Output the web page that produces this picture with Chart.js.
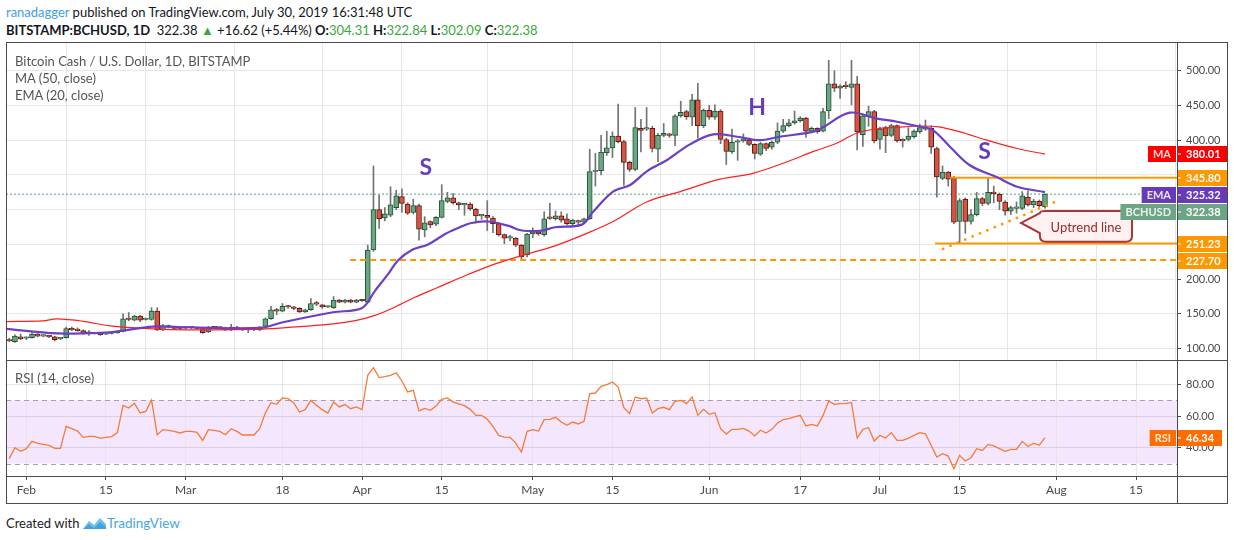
<!DOCTYPE html>
<html>
<head>
<meta charset="utf-8">
<title>BCHUSD</title>
<script src="https://cdn.jsdelivr.net/npm/chart.js@4.4.1/dist/chart.umd.min.js"></script>
<style>
  html, body { margin:0; padding:0; background:#fff; }
  body { width:1234px; height:540px; overflow:hidden; position:relative; font-family: Lato, "Open Sans", sans-serif; color:#131722; }
  .t { position:absolute; white-space:nowrap; }
  .g { color:#3ba83b; }
  #c1 { position:absolute; left:0; top:42px; }
  #c2 { position:absolute; left:0; top:360px; }
  .ln { position:absolute; background:#4b4b4b; }
  .leg { position:absolute; left:15px; font-size:13px; color:#555; line-height:16px; white-space:nowrap; }
</style>
</head>
<body>
<div class="t" style="left:6px;top:4px;font-size:13px;line-height:16px;"><span style="color:#3f9ee6">ranadagger</span> published on TradingView.com, July 30, 2019 16:31:48 UTC</div>
<div class="t" style="left:6px;top:22px;font-size:13px;line-height:16px;"><b>BITSTAMP:BCHUSD, 1D</b>&nbsp; 322.38 <span class="g">&#9650;</span> +16.62 (+5.44%) <b>O:</b><span class="g">304.31</span> <b>H:</b><span class="g">322.84</span> <b>L:</b><span class="g">302.09</span> <b>C:</b><span class="g">322.38</span></div>

<canvas id="c1" width="1234" height="318"></canvas>
<canvas id="c2" width="1234" height="143"></canvas>

<div class="ln" style="left:6px;top:42px;width:1222px;height:1px;"></div>
<div class="ln" style="left:6px;top:42px;width:1px;height:462px;"></div>
<div class="ln" style="left:1227px;top:42px;width:1px;height:462px;"></div>
<div class="ln" style="left:6px;top:503px;width:1222px;height:1px;"></div>
<div class="ln" style="left:6px;top:360px;width:1222px;height:1px;"></div>
<div class="ln" style="left:6px;top:476px;width:1222px;height:1px;"></div>
<div class="ln" style="left:1177px;top:42px;width:1px;height:462px;"></div>

<div class="leg" style="top:53px;">Bitcoin Cash / U.S. Dollar, 1D, BITSTAMP</div>
<div class="leg" style="top:70px;">MA (50, close)</div>
<div class="leg" style="top:87px;">EMA (20, close)</div>
<div class="leg" style="top:370px;">RSI (14, close)</div>

<div class="t" style="left:6px;top:514px;font-size:13px;line-height:18px;color:#222;">Created with</div>
<svg style="position:absolute;left:82px;top:515px;" width="25" height="16" viewBox="0 0 25 16">
  <path d="M1 14 L7 6 L12 10 L18 3 L24 9 L24 14 Z" fill="#6cc3ec"/>
  <path d="M1 14 L7 9 L12 13 L18 7 L24 12 L24 14 Z" fill="#3fa5dd"/>
</svg>
<div class="t" style="left:107px;top:514px;font-size:13.5px;line-height:18px;color:#45a8dd;">TradingView</div>

<script>
// ---------- DATA (day index 0 = 2019-01-29, daily candles through 2019-07-30) ----------
const startDate = '2019-01-29';
const openP = [113,110,117,115,116,121,118,118,117,114,
116,129,128,126,122,122,122,121,122,123,
125,143,141,147,142,142,154,127,133,131,
130,129.5,130,130,129,124,131,130,130,127,
131,129,128,127,127,132,143,156,154,161,
160,158,153,156,166,163,160,159,170,167,
170,167,170,167,242,300,288,292,303,319,
308,296,306,271,283,279,289,312,317,310,
307,308,301,291,292,288,280,264,259,259,
249,235,265,268,264,288,287,291,287,280,
284,282,287,355,356,382,389,406,398,368,
358,417,416,417,387,407,408,407,435,441,
433,458,421,443,433,442,401,383,397,399,
400,394,380,395,390,397,413,421,425,428,
432,413,417,413,442,481,475,478,476,481,
408,434,441,401,418,407,421,401,401,405,
412,418,417,388,345,354,345,283,315,283,
293,316,309,325,322,311,298,302,302,318,
307,312,304.31];
const highP = [115,120,121,117,123,122,120,119,118,116,
131,131,130,127,126,123,123,123,124,125,
150,152,148,148,144,159,159,135,134,132,
131,132,131,131,130,132,132,131,131,135,
132,130,129,129,132,144,161,158,165,162,
161,159,157,172,168,164,161,175,171,171,
171,171,171,249,363,321,303,333,328,330,
310,315,308,290,284,290,336,325,323,311,
309,310,302,293,313,290,281,265,263,260,
250,266,274,270,297,309,298,297,294,286,
285,288,387,381,407,413,412,452,400,370,
447,430,447,420,410,424,410,437,456,443,
466,482,445,450,451,444,403,416,401,409,
402,395,397,396,399,425,430,430,442,434,
433,419,418,446,515,500,480,484,515,492,
437,449,443,419,420,423,422,402,418,415,
423,429,421,390,363,355,348,316,317,300,
325,318,345,334,324,313,305,311,326,327,
315,314,322.84];
const lowP = [110,109,113,113,115,117,117,116,111,113,
115,126,125,121,119,121,119,120,121,122,
124,140,140,139,141,141,126,126,130,128,
128,128,129,128,122,123,129,129,126,126,
128,126,123,126,126,131,142,149,153,158,
156,152,152,155,162,158,159,158,166,166,
166,166,168,166,240,273,284,290,300,296,
293,294,256,261,274,277,288,310,308,300,
292,299,281,286,270,267,262,251,255,247,
229,232,260,263,262,286,285,282,278,277,
278,280,286,334,350,378,375,396,335,355,
356,383,414,383,369,405,404,392,433,430,
421,403,418,430,430,395,365,381,371,397,
392,373,378,385,387,395,411,419,423,426,
404,411,410,412,431,470,460,474,451,386,
391,420,396,387,382,405,397,390,399,403,
410,414,381,318,343,334,280,252,266,279,
291,306,307,310,300,292,293,295,300,305,
303,303,302.09];
const closeP = [111,118,114,115.5,121,118,118.5,117,113,115,
129,127,126,122,122.5,121.5,120,122,123,123.5,
143,142,147,141,143,154,127,133,131,129,
129,130.5,130,129,123,131,130,129.5,127,131,
129,127,127,127.5,131,143,156,154,161,160,
158,153,156,165,164,160,160.5,170,167,170,
167,170,169,242,300,287,294,307,320,309,
295,306,272,281,278,289,313,317,310,307,
307.5,301,291,292,289,280,264,259,259.5,249,
232,265,268,265,287,287.5,291,285,280,285,
282,287,355,356,383,389,406,398,368,358,
418,414,417,388,407,410,407,435,440,434,
458,421,443,433,442,401,384,397,399,402,
394,381,395,388,397,413,421,425,428,432,
413,417,412,441,481,475,478,477,481,412,
435,441,399,416,406,421,399,399,406,413,
418,416,390,347,354,344,282,313,283,293,
316,309,325,323,312,298,303,303,320,307,
312,305.76,322.38];

// MA(50) and EMA(20) at sample days
const maDays = [-0.57,5.9,8.4,13.0,17.7,25.3,31.2,44.1,51.1,56.9,60.8,64.3,67.8,71.3,75.3,80.1,85.4,90.1,95.9,101.5,106.1,112.1,117.9,124.9,130.7,136.7,141.2,145.4,148.9,152.5,156.0,160.0,163.0,167.1,171.8,177.1,182];
const maVals = [139,140,142.8,139.4,132.7,128.4,127,128,131.8,135.6,140.4,148,160,174,188,205,222,234,248,266,283,311.5,326,344,352.3,369,383.5,395.5,410,416.5,418.5,420.4,419.4,412,400,388,380.01];
const emaDays = [-0.57,8.4,17.7,25.3,31.2,44.1,48.1,56.9,62.0,64.3,66.6,68.3,70.9,73.6,76.6,78.9,81.0,84.1,87.6,90.1,93.6,95.9,100.6,102.6,106.1,109.1,112.1,115.6,119.6,123.7,127.9,131.9,135.4,141.2,143.0,147.7,152.5,156.0,160.0,162.3,165.3,168.8,173.6,177.1,182];
const emaVals = [128.4,122,123.6,131.8,130.8,129.8,138,152.4,158.6,183.6,207.6,227,242.6,250,265,273.7,280.5,283,277,270,270,274.7,278.5,297,326,335.5,355.6,371.5,394,408.4,405,400,405,412,418.5,439.6,431,426.6,419.4,414.6,390.6,364,346.5,333,325.32];

// RSI(14) per day
const rsiVals = [33.1,40,37.7,39.4,44,42.7,42.1,41.5,39.6,39.6,
53.5,52,50.5,46.5,47.2,47.2,45.9,46.5,47,49.5,
66.7,65,68,61.9,62.9,70.1,48.2,51.4,51,50.3,
49.3,50.3,50.3,49.7,44.6,51.4,51,50.3,48.2,52,
50.3,48,48,48,52,61.9,68.4,67.4,71.4,70.9,
68.2,62.5,64,69.9,66.7,64,61.9,68.8,65.7,67.2,
64.6,65.7,64,85.7,90.5,84.2,84.8,85.7,87.2,82.1,
75.2,76.2,63.2,64.8,63.6,66.3,70.5,71.4,68.8,67.6,
66.5,64.2,60.4,60.4,57.9,53.5,47.8,46.7,46.5,42.9,
37.3,50.3,51.4,50.5,57.7,57.9,59.2,56.2,54.1,56.2,
55,56.6,74.1,74.5,78.7,79.8,81.5,78.3,65.3,61.5,
72,70.9,71.4,61.9,64.6,65.5,64,69.3,69.9,67.8,
72,60.4,64.2,61.1,62.1,52,48.6,51.6,51.6,52.2,
50.5,47.4,51,49.3,51.6,55.6,57.7,58.3,59.4,60.4,
53.7,54.7,53.7,60.4,69.3,67.4,67.8,68,68.4,46.1,
51.6,52.6,44.2,47.8,46.1,49.5,44.6,44.6,46.1,47.8,
49.5,48.8,41.5,34.1,36.2,34.7,26.7,35.2,31.6,33.7,
39.4,38.3,42.1,41.1,39.4,37.7,39,39,44,40.8,
42.9,41.5,46.34];

// axis ticks
const tickDays = [3,17,31,48,62,76,92,106,123,139,153,167,184,198];
const tickLabels = ['Feb','15','Mar','18','Apr','15','May','15','Jun','17','Jul','15','Aug','15'];
const priceTicks = [100,150,200,250,300,350,400,450,500];
const rsiTicks = [40,60,80];
const rsiBand = [30,70];
const rsiLast = 46.34;

// drawn annotations (data units)
const levelVals = [345.80, 251.23, 227.70];
const levelFrom = [165.3, 162.7, 59.9];
const trendDays = [163.9, 184.6];
const trendVals = [243, 314];
const lastPrice = 322.38;
const markerNames = ['MA','','EMA','BCHUSD','',''];
const markerVals = [380.01, 345.80, 325.32, 322.38, 251.23, 227.70];
const patternTexts = ['S','H','S'];
const patternDays = [73.2, 131.4, 171.4];
const patternVals = [360, 447.6, 383];
const calloutText = 'Uptrend line';
const calloutTipDay = 177.8, calloutTipVal = 280.9;
const calloutDays = [181.1, 197.3];
const calloutVals = [298, 254];

// ---------- STYLE ----------
const X_MIN = -0.57, X_MAX = 205.2;
const UP='#6ba583', UP_B='#225437', DN='#d75442', DN_B='#5b1a13', WICK='#737375';
const ORANGE='#ff9800';
const markerColors = ['#ff0000', ORANGE, '#673ab7', '#6ba583', ORANGE, ORANGE];
const FONT='Lato';
const isUp = closeP.map((c,i)=> c >= openP[i]);

function setTicks(vals){ return s => { s.ticks = vals.map(v=>({value:v})); }; }
function fitY(w){ return s => { s.width = w; s.paddingTop = 0; s.paddingBottom = 0; }; }
function fitX(h){ return s => { s.height = h; s.paddingLeft = 0; s.paddingRight = 0; }; }

function drawTags(chart, vals, names, colors, width){
  const {ctx, chartArea:a, scales:{y}} = chart;
  const h = 16;
  const items = vals.map((v,i)=>({v, name:names[i], color:colors[i], y:y.getPixelForValue(v)}))
                    .sort((p,q)=>p.y-q.y);
  let prev = -1e9;
  items.forEach(it => { if (it.y - prev < h + 1) it.y = prev + h + 1; prev = it.y; });
  ctx.save();
  ctx.font = 'bold 11px ' + FONT;
  ctx.textBaseline = 'middle';
  items.forEach(it => {
    const yy = Math.round(it.y);
    ctx.fillStyle = it.color;
    ctx.fillRect(a.right + 1, yy - h/2, width, h);
    ctx.fillStyle = '#fff';
    ctx.fillRect(a.right, yy - 0.5, 4, 1);
    ctx.textAlign = 'left';
    ctx.fillText(it.v.toFixed(2), a.right + 9, yy + 0.5);
    if (it.name) {
      const w = ctx.measureText(it.name).width + 10;
      ctx.fillStyle = it.color;
      ctx.fillRect(a.right - 1 - w, yy - h/2, w, h);
      ctx.fillStyle = 'rgba(255,255,255,0.85)';
      ctx.textAlign = 'center';
      ctx.fillText(it.name, a.right - 1 - w/2, yy + 0.5);
    }
  });
  ctx.restore();
}

const priceDeco = {
  id:'priceDeco',
  afterDatasetsDraw(chart){
    const {ctx, chartArea:a, scales:{x,y}} = chart;
    ctx.save();
    ctx.beginPath(); ctx.rect(a.left, a.top, a.right-a.left, a.bottom-a.top); ctx.clip();
    // pattern letters
    ctx.font = 'bold 23px ' + FONT;
    ctx.fillStyle = '#6a3cbc';
    ctx.textAlign = 'center'; ctx.textBaseline = 'middle';
    patternTexts.forEach((t,i)=> ctx.fillText(t, x.getPixelForValue(patternDays[i]), y.getPixelForValue(patternVals[i])));
    // callout
    const L = x.getPixelForValue(calloutDays[0]), R = x.getPixelForValue(calloutDays[1]);
    const T = y.getPixelForValue(calloutVals[0]), B = y.getPixelForValue(calloutVals[1]);
    const tx = x.getPixelForValue(calloutTipDay), ty = y.getPixelForValue(calloutTipVal);
    const r = 6;
    ctx.beginPath();
    ctx.moveTo(L + r, T);
    ctx.lineTo(R - r, T); ctx.quadraticCurveTo(R, T, R, T + r);
    ctx.lineTo(R, B - r); ctx.quadraticCurveTo(R, B, R - r, B);
    ctx.lineTo(L + r, B); ctx.quadraticCurveTo(L, B, L, B - r);
    ctx.lineTo(L, T + 22);
    ctx.lineTo(tx, ty);
    ctx.lineTo(L, T + 2);
    ctx.quadraticCurveTo(L, T, L + r, T);
    ctx.closePath();
    ctx.fillStyle = 'rgba(255,240,240,0.92)';
    ctx.fill();
    ctx.lineWidth = 2; ctx.strokeStyle = '#a3373a';
    ctx.stroke();
    ctx.font = '13px ' + FONT;
    ctx.fillStyle = '#9c2a2a';
    ctx.fillText(calloutText, (L + R)/2, (T + B)/2 + 1);
    ctx.restore();
  },
  afterDraw(chart){
    drawTags(chart, markerVals, markerNames, markerColors, 49);
  }
};

const rsiDeco = {
  id:'rsiDeco',
  beforeDraw(chart){
    const {ctx, chartArea:a, scales:{y}} = chart;
    const y1 = y.getPixelForValue(rsiBand[1]), y0 = y.getPixelForValue(rsiBand[0]);
    ctx.save();
    ctx.fillStyle = '#f4e7fd';
    ctx.fillRect(a.left, y1, a.right - a.left, y0 - y1);
    ctx.restore();
  },
  beforeDatasetsDraw(chart){
    const {ctx, chartArea:a, scales:{y}} = chart;
    ctx.save();
    ctx.strokeStyle = '#a89fae'; ctx.lineWidth = 1; ctx.setLineDash([5,4]);
    rsiBand.forEach(v => {
      const yy = Math.round(y.getPixelForValue(v)) + 0.5;
      ctx.beginPath(); ctx.moveTo(a.left, yy); ctx.lineTo(a.right, yy); ctx.stroke();
    });
    ctx.restore();
  },
  afterDraw(chart){
    drawTags(chart, [rsiLast], ['RSI'], ['#ff6d00'], 44);
  }
};

const common = {
  responsive:false, animation:false, devicePixelRatio:1,
  layout:{padding:{left:6, right:7, top:0, bottom:0}},
  plugins:{legend:{display:false}, tooltip:{enabled:false}}
};

const lineDs = (data, color, width, dash, order, tension) => ({
  type:'line', data, borderColor:color, borderWidth:width, borderDash:dash || [],
  pointRadius:0, tension:tension || 0, order, fill:false
});

new Chart(document.getElementById('c1'), {
  type:'bar',
  data:{ datasets:[
    lineDs(emaDays.map((d,i)=>({x:d, y:emaVals[i]})), '#6c3fc4', 2.2, null, 1, 0.35),
    lineDs(maDays.map((d,i)=>({x:d, y:maVals[i]})), '#ff1f1f', 1.2, null, 2, 0.35),
    lineDs([{x:trendDays[0], y:trendVals[0]}, {x:trendDays[1], y:trendVals[1]}], ORANGE, 2.5, [2.5,5.5], 3),
    ...levelVals.map((v,i)=> lineDs([{x:levelFrom[i], y:v}, {x:X_MAX, y:v}], ORANGE, 2, i===2 ? [6,4] : null, 3)),
    lineDs([{x:X_MIN, y:lastPrice}, {x:X_MAX, y:lastPrice}], '#5f9c7a', 1, [2,2], 7),
    { type:'bar', data: openP.map((o,i)=>({x:i, y:[o, closeP[i]]})),
      backgroundColor: isUp.map(u=>u?UP:DN), borderColor: isUp.map(u=>u?UP_B:DN_B),
      borderWidth:1, borderSkipped:false, barThickness:5, minBarLength:1.5, grouped:false, order:4 },
    { type:'bar', data: highP.map((h,i)=>({x:i, y:[lowP[i], h]})),
      backgroundColor: WICK, borderWidth:0, barThickness:1, grouped:false, order:5 }
  ]},
  options:{ ...common,
    scales:{
      x:{ type:'linear', min:X_MIN, max:X_MAX, offset:false,
          afterBuildTicks: setTicks(tickDays),
          ticks:{display:false, autoSkip:false},
          grid:{color:'#e6e6e6', drawTicks:false}, border:{display:false},
          afterFit: fitX(0) },
      y:{ position:'right', min:83.7, max:541.3,
          afterBuildTicks: setTicks(priceTicks),
          ticks:{callback:v=>Number(v).toFixed(2), color:'#4a4a4a', font:{family:FONT, size:11}, padding:5, autoSkip:false},
          grid:{color:'#e6e6e6', tickLength:4, tickColor:'#4b4b4b'}, border:{display:false},
          afterFit: fitY(50) }
    }
  },
  plugins:[priceDeco]
});

new Chart(document.getElementById('c2'), {
  type:'line',
  data:{ datasets:[ lineDs(rsiVals.map((v,i)=>({x:i, y:v})), '#f57b36', 1.3, null, 1) ] },
  options:{ ...common,
    scales:{
      x:{ type:'linear', min:X_MIN, max:X_MAX,
          afterBuildTicks: setTicks(tickDays),
          ticks:{autoSkip:false, maxRotation:0, callback:(v,i)=>tickLabels[i], color:'#4a4a4a', font:{family:FONT, size:12}, padding:3},
          grid:{color:'#e6e6e6', tickLength:4, tickColor:'#4b4b4b'}, border:{display:false},
          afterFit: fitX(27) },
      y:{ position:'right', min:22.15, max:95.33,
          afterBuildTicks: setTicks(rsiTicks),
          ticks:{callback:v=>Number(v).toFixed(2), color:'#4a4a4a', font:{family:FONT, size:11}, padding:5, autoSkip:false},
          grid:{color:'rgba(0,0,0,0.1)', tickLength:4, tickColor:'#4b4b4b'}, border:{display:false},
          afterFit: fitY(50) }
    }
  },
  plugins:[rsiDeco]
});
</script>
</body>
</html>
